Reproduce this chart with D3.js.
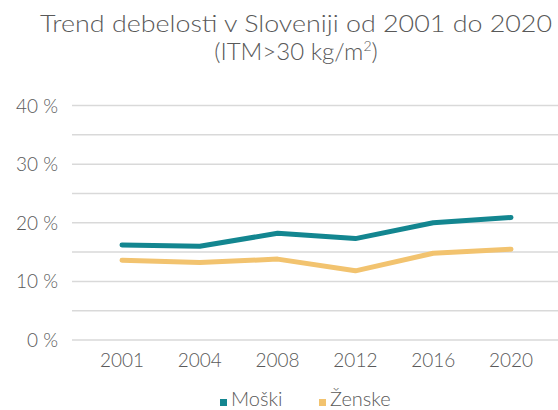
<!DOCTYPE html>
<html>
<head>
<meta charset="utf-8">
<script src="https://cdn.jsdelivr.net/npm/d3@7"></script>
<style>
  body { margin: 0; background: #fff; }
  text { font-family: "Lato", "DejaVu Sans", sans-serif; fill: #595959; font-weight: 300; }
</style>
</head>
<body>
<div id="chart"></div>
<script>
var years = ["2001", "2004", "2008", "2012", "2016", "2020"];
var moski = [16.2, 16.0, 18.2, 17.3, 20.0, 20.9];
var zenske = [13.6, 13.2, 13.8, 11.8, 14.8, 15.5];
var yTicks = [0, 10, 20, 30, 40];
var gridLines = [0, 5, 10, 15, 20, 25, 30, 35, 40];

var width = 558,
    height = 410;

var svg = d3.select("#chart")
    .append("svg")
    .attr("width", width)
    .attr("height", height);

var x = d3.scalePoint()
    .domain(years)
    .range([122, 511]);

var y = d3.scaleLinear()
    .domain([0, 40])
    .range([340, 105.5]);

// title
svg.append("text")
    .attr("x", 296)
    .attr("y", 32)
    .attr("text-anchor", "middle")
    .attr("textLength", 512)
    .attr("lengthAdjust", "spacingAndGlyphs")
    .style("font-size", "24px")
    .text("Trend debelosti v Sloveniji od 2001 do 2020");

var sub = svg.append("text")
    .attr("x", 296)
    .attr("y", 60)
    .attr("text-anchor", "middle")
    .style("font-size", "24px");
sub.append("tspan").text("(ITM>30 kg/m");
sub.append("tspan").attr("dy", -9).style("font-size", "14px").text("2");
sub.append("tspan").attr("dy", 9).text(")");

// grid
svg.selectAll("line.grid")
    .data(gridLines)
    .enter()
    .append("line")
    .attr("class", "grid")
    .attr("x1", 72)
    .attr("x2", 558)
    .attr("y1", function(d) { return y(d); })
    .attr("y2", function(d) { return y(d); })
    .attr("stroke", "#d9d9d9")
    .attr("stroke-width", 1.5);

// y labels
svg.selectAll("text.ytick")
    .data(yTicks)
    .enter()
    .append("text")
    .attr("class", "ytick")
    .attr("x", 58)
    .attr("y", function(d) { return y(d) + 7; })
    .attr("text-anchor", "end")
    .style("font-size", "19px")
    .text(function(d) { return d + " %"; });

// x labels
svg.selectAll("text.xtick")
    .data(years)
    .enter()
    .append("text")
    .attr("class", "xtick")
    .attr("x", function(d) { return x(d); })
    .attr("y", 367)
    .attr("text-anchor", "middle")
    .style("font-size", "19px")
    .text(function(d) { return d; });

var line = d3.line()
    .x(function(d, i) { return x(years[i]); })
    .y(function(d) { return y(d); });

var series = [
    { name: "Moški", values: moski, color: "#138690" },
    { name: "Ženske", values: zenske, color: "#f2c36f" }
];

svg.selectAll("path.series")
    .data(series.slice().reverse())
    .enter()
    .append("path")
    .attr("class", "series")
    .attr("d", function(d) { return line(d.values); })
    .attr("fill", "none")
    .attr("stroke", function(d) { return d.color; })
    .attr("stroke-width", 5)
    .attr("stroke-linecap", "round")
    .attr("stroke-linejoin", "round");

// legend
var legendX = [220, 319];
var legend = svg.selectAll("g.legend")
    .data(series)
    .enter()
    .append("g")
    .attr("class", "legend")
    .attr("transform", function(d, i) { return "translate(" + legendX[i] + ",0)"; });

legend.append("rect")
    .attr("x", 0)
    .attr("y", 399)
    .attr("width", 7)
    .attr("height", 7)
    .attr("fill", function(d) { return d.color; });

legend.append("text")
    .attr("x", 11)
    .attr("y", 406)
    .style("font-size", "20px")
    .text(function(d) { return d.name; });
</script>
</body>
</html>
